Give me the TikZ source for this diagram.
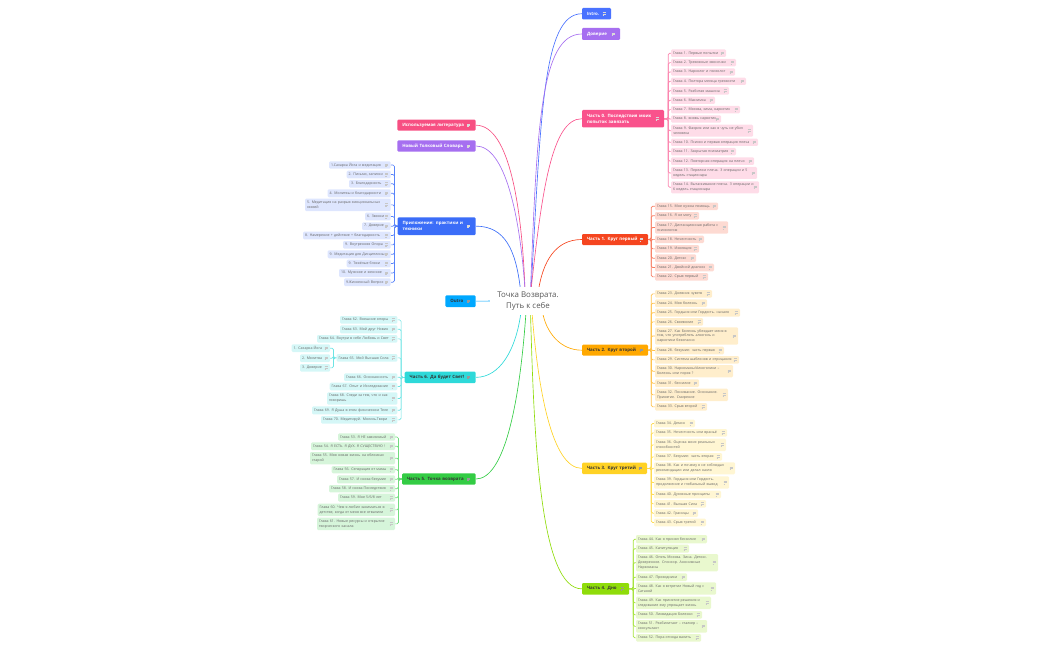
\documentclass[tikz,border=0pt]{standalone}
\usepackage{fontspec}
\setmainfont{Open Sans}
\usetikzlibrary{backgrounds,calc}
\definecolor{cIntro}{HTML}{4A72FF}
\definecolor{cDov}{HTML}{A66FF0}
\definecolor{cPink}{HTML}{F9528C}
\definecolor{cRed}{HTML}{F5451F}
\definecolor{cOra}{HTML}{FFA800}
\definecolor{cYel}{HTML}{FFD225}
\definecolor{cLime}{HTML}{8FDC0A}
\definecolor{cGrn}{HTML}{33CC44}
\definecolor{cCya}{HTML}{2ED9D9}
\definecolor{cBlue}{HTML}{3B6DF8}
\definecolor{cSky}{HTML}{00A8FF}
\definecolor{cLit}{HTML}{F74F82}
\definecolor{txtL}{HTML}{666666}
\tikzset{
  x=1pt,y=-1pt,
  partw/.style={fill=#1,text=white,rounded corners=1.2pt,font=\fontsize{4.4}{6.2}\selectfont\bfseries},
  partd/.style={fill=#1,text=black!80,rounded corners=1.2pt,font=\fontsize{4.4}{6.2}\selectfont\bfseries},
  leaf/.style={fill=#1,text=txtL,rounded corners=1.2pt,font=\fontsize{3.55}{4.9}\selectfont},
  icoL/.style={draw=black!22,line width=0.35pt},
  icoW/.style={draw=white!85!black,line width=0.35pt},
  icoD/.style={draw=black!40,line width=0.35pt},
  limb/.style={line width=0.7pt,draw=#1,rounded corners=1.5pt},
  curve/.style={line width=0.65pt,draw=#1},
}
\newcommand{\bxM}{5}
% name, style, icon style, x0, x1, y0, y1, text
\newcommand{\bx}[8]{%
  \pgfmathsetmacro{\bxCx}{(#4+#5)/2}%
  \pgfmathsetmacro{\bxCy}{(#6+#7)/2}%
  \pgfmathsetmacro{\bxW}{#5-#4}%
  \pgfmathsetmacro{\bxH}{#7-#6}%
  \pgfmathsetmacro{\bxT}{#5-#4-2*\bxM}%
  \node[#2,minimum width=\bxW pt,minimum height=\bxH pt,text width=\bxT pt,inner sep=0pt,align=left] (#1) at (\bxCx,\bxCy) {#8};
  \draw[#3,shift={(#1.east)}] ({-\bxM-3.7},-1.2) -- ({-\bxM-0.5},-1.2) ({-\bxM-3.7},0) -- ({-\bxM-0.5},0) ({-\bxM-3.7},1.2) -- ({-\bxM-2.2},1.2);
}
\begin{document}
\begin{tikzpicture}
\useasboundingbox (0,0) rectangle (1050,650);
% free ends of the branches, behind the centre title
\coordinate (sApp) at (520.5,290);
\coordinate (sLit) at (525,290);
\coordinate (sSlov) at (525,290);
\coordinate (sIntro) at (531,290);
\coordinate (sDov) at (530.5,290);
\coordinate (sP0) at (531,290);
\coordinate (sP1) at (538.5,290);
\coordinate (sP6) at (521,312);
\coordinate (sP5) at (526,312);
\coordinate (sP4) at (530.5,312);
\coordinate (sP3) at (532,312);
\coordinate (sP2) at (542.5,312);
\coordinate (sOut) at (500,301);
% centre
\node[fill=white,inner sep=0pt,minimum width=76pt,minimum height=28pt,align=center,text=black!65,font=\fontsize{7.9}{10.4}\selectfont] (root) at (528,301) {Точка Возврата.\\Путь к себе};
% right parts
\bx{intro}{partw=cIntro}{icoW}{582}{611}{8}{19.5}{Intro.}
\bx{dov}{partw=cDov}{icoW}{582}{620}{28}{40}{Доверие}
\bx{p0}{partw=cPink}{icoW}{582}{664}{110}{127.5}{Часть 0. Последствия моих\\попыток завязать}
\bx{p1}{partw=cRed}{icoW}{582}{648}{234}{245}{Часть 1. Круг первый}
\bx{p2}{partd=cOra}{icoD}{582}{648}{344.7}{355.7}{Часть 2. Круг второй}
\bx{p3}{partd=cYel}{icoD}{582}{647}{462.7}{474}{Часть 3. Круг третий}
\bx{p4}{partd=cLime}{icoD}{582}{629}{583}{594.7}{Часть 4. Дно}
% left parts
\bx{lit}{partw=cLit}{icoW}{397.3}{475.7}{119.7}{130.7}{Используемая литература}
\bx{slov}{partw=cDov}{icoW}{397.3}{475.7}{140.3}{151.7}{Новый Толковый Словарь}
\bx{app}{partw=cBlue}{icoW}{397.7}{475.7}{217.3}{235}{Приложение: практики и\\техники}
\bx{outro}{partd=cSky}{icoD}{445.3}{475.7}{295.3}{307}{Outro}
\bx{p6}{partd=cCya}{icoD}{404.7}{475.7}{371.7}{383}{Часть 6. Да будет Свет!}
\bx{p5}{partd=cGrn}{icoD}{402}{475.7}{473.3}{484.7}{Часть 5. Точка возврата}
\renewcommand{\bxM}{2}
% part 0 leaves
\tikzset{l0/.style={leaf=cPink!20!white}}
\bx{a1}{l0}{icoL}{671}{726}{49.5}{57}{Глава 1. Первые попытки}
\bx{a2}{l0}{icoL}{671}{736}{59}{66.3}{Глава 2. Тревожные звоночки}
\bx{a3}{l0}{icoL}{671}{735}{68.3}{75.7}{Глава 3. Нарколог и психолог}
\bx{a4}{l0}{icoL}{671}{746}{77.7}{85}{Глава 4. Полтора месяца трезвости}
\bx{a5}{l0}{icoL}{671}{729}{87}{94.7}{Глава 5. Разбитая машина}
\bx{a6}{l0}{icoL}{671}{715}{96.7}{104}{Глава 6. Максимка}
\bx{a7}{l0}{icoL}{671}{740}{106}{113.3}{Глава 7. Москва, зима, наркотик}
\bx{a8}{l0}{icoL}{671}{721}{115.3}{122.7}{Глава 8. вновь наркотик}
\bx{a9}{l0}{icoL}{671}{753}{124.7}{136.7}{Глава 9. Фахрия или как я чуть не убил\\человека}
\bx{a10}{l0}{icoL}{671}{758}{138.7}{146}{Глава 10. Психоз и первая операция плеча}
\bx{a11}{l0}{icoL}{671}{736}{148}{155.3}{Глава 11. Закрытая психиатрия}
\bx{a12}{l0}{icoL}{671}{754}{157.3}{165}{Глава 12. Повторная операция на плечо}
\bx{a13}{l0}{icoL}{671}{757}{167}{179}{Глава 13. Перелом плеча. 3 операции и 5\\недель стационара}
\bx{a14}{l0}{icoL}{671}{759}{181.3}{193.3}{Глава 14. Вытаскивание плеча. 3 операции и\\6 недель стационара}
% part 1 leaves
\tikzset{l1/.style={leaf=cRed!20!white}}
\bx{b1}{l1}{icoL}{655}{718}{202.5}{210}{Глава 15. Мне нужна помощь}
\bx{b2}{l1}{icoL}{655}{699}{212}{219.5}{Глава 16. Я не могу}
\bx{b3}{l1}{icoL}{655}{728}{221.3}{233.7}{Глава 17. Дистанционная работа с\\психологом}
\bx{b4}{l1}{icoL}{655}{704}{235.7}{243}{Глава 18. Нечестность}
\bx{b5}{l1}{icoL}{655}{699}{245}{252.7}{Глава 19. Изоляция}
\bx{b6}{l1}{icoL}{655}{696}{254.3}{262}{Глава 20. Детокс}
\bx{b7}{l1}{icoL}{655}{714}{263.7}{271.3}{Глава 21. Двойной диагноз}
\bx{b8}{l1}{icoL}{655}{708}{273}{280.7}{Глава 22. Срыв первый}
% part 2 leaves
\tikzset{l2/.style={leaf=cOra!20!white}}
\bx{c1}{l2}{icoL}{655}{712}{290}{297.7}{Глава 23. Дневник чувств}
\bx{c2}{l2}{icoL}{655}{707}{299.3}{307}{Глава 24. Моя болезнь}
\bx{c3}{l2}{icoL}{655}{740}{308.7}{316.7}{Глава 25. Гордыня или Гордость. начало}
\bx{c4}{l2}{icoL}{655}{703}{318}{325.7}{Глава 26. Своеволие}
\bx{c5}{l2}{icoL}{655}{738}{327.3}{344.7}{Глава 27. Как Болезнь убеждает меня в\\том, что употреблять алкоголь и\\наркотики безопасно}
\bx{c6}{l2}{icoL}{655}{724}{346.7}{354.3}{Глава 28. безумие: часть первая}
\bx{c7}{l2}{icoL}{655}{739}{356}{363.7}{Глава 29. Система шаблонов и отрицания}
\bx{c8}{l2}{icoL}{655}{733}{365}{377.3}{Глава 30. Наркоманы/Алкоголики --\\Болезнь или порок ?}
\bx{c9}{l2}{icoL}{655}{699}{379.3}{387}{Глава 31. бессилие}
\bx{c10}{l2}{icoL}{655}{728}{388.7}{401}{Глава 32. Понимание. Осознание.\\Принятие. Смирение}
\bx{c11}{l2}{icoL}{655}{707}{403}{410.7}{Глава 33. Срыв второй}
% part 3 leaves
\tikzset{l3/.style={leaf=cYel!20!white}}
\bx{d1}{l3}{icoL}{654}{695}{419.7}{427.3}{Глава 34. Демон}
\bx{d2}{l3}{icoL}{654}{727}{429}{436.7}{Глава 35. Нечестность или враньё}
\bx{d3}{l3}{icoL}{654}{726}{438.7}{451}{Глава 36. Оценка моих реальных\\способностей}
\bx{d4}{l3}{icoL}{654}{722}{453}{460.7}{Глава 37. Безумие: часть вторая}
\bx{d5}{l3}{icoL}{654}{735}{462.3}{474.3}{Глава 38. Как и почему я не соблюдал\\рекомендации или делал назло}
\bx{d6}{l3}{icoL}{654}{729}{476.3}{488.7}{Глава 39. Гордыня или Гордость.\\продолжение и глобальный вывод}
\bx{d7}{l3}{icoL}{654}{721}{490.7}{498.3}{Глава 40. Духовные принципы}
\bx{d8}{l3}{icoL}{654}{706}{500}{507.7}{Глава 41. Высшая Сила}
\bx{d9}{l3}{icoL}{654}{698}{509.3}{517}{Глава 42. Границы}
\bx{d10}{l3}{icoL}{654}{706}{518.7}{526.3}{Глава 43. Срыв третий}
% part 4 leaves
\tikzset{l4/.style={leaf=cLime!20!white}}
\bx{e1}{l4}{icoL}{636}{707}{535}{543.3}{Глава 44. Как я принял бессилие}
\bx{e2}{l4}{icoL}{636}{689}{544.7}{552.7}{Глава 45. Капитуляция}
\bx{e3}{l4}{icoL}{636}{718}{554}{571.3}{Глава 46. Опять Москва. Зина. Детокс.\\Доверенное. Спонсор. Анонимные\\Наркоманы}
\bx{e4}{l4}{icoL}{636}{687}{573.3}{581}{Глава 47. Проводники}
\bx{e5}{l4}{icoL}{636}{716}{582.3}{594.7}{Глава 48. Как я встретил Новый год с\\Сатаной}
\bx{e6}{l4}{icoL}{636}{711}{596.7}{609}{Глава 49. Как принятие решения и\\следование ему упрощает жизнь}
\bx{e7}{l4}{icoL}{636}{702}{611}{618.7}{Глава 50. Ликвидация Болезни}
\bx{e8}{l4}{icoL}{636}{707}{620}{632.7}{Глава 51. Реабилитант -- сталкер --\\консультант}
\bx{e9}{l4}{icoL}{636}{701}{634}{641.7}{Глава 52. Пора отсюда валить}
% appendix leaves
\tikzset{lb/.style={leaf=cBlue!17!white}}
\bx{f1}{lb}{icoL}{329}{390.7}{161.3}{168.7}{1.Сахарка Йога и медитация}
\bx{f2}{lb}{icoL}{346.7}{390.7}{170.7}{178.3}{2. Письмо, записки}
\bx{f3}{lb}{icoL}{349}{390.7}{180}{187.7}{3. Благодарность}
\bx{f4}{lb}{icoL}{327.7}{390.7}{189.3}{197.3}{4. Молитвы и благодарности}
\bx{f5}{lb}{icoL}{305}{390.7}{198.7}{211}{5. Медитация на разрыв эмоциональных\\связей}
\bx{f6}{lb}{icoL}{365}{390.7}{212.7}{220.3}{6. Звонки}
\bx{f7}{lb}{icoL}{362}{390.7}{222.3}{230}{7. Доверие}
\bx{f8}{lb}{icoL}{303}{390.7}{231.7}{239.3}{8. Намерение + действие + благодарность}
\bx{f9}{lb}{icoL}{343}{390.7}{241}{248.7}{9. Внутренняя Опора}
\bx{f10}{lb}{icoL}{327.7}{390.7}{250.3}{258.3}{9. Медитация для Дисциплины}
\bx{f11}{lb}{icoL}{346.7}{390.7}{259.7}{267.3}{9. Тяжёлые блоки}
\bx{f12}{lb}{icoL}{339}{390.7}{269}{277}{10. Мужское и женское}
\bx{f13}{lb}{icoL}{344}{390.7}{278.3}{286}{9.Жизненный Вопрос}
% part 6 leaves
\tikzset{l6/.style={leaf=cCya!20!white}}
\bx{g1}{l6}{icoL}{340}{397.3}{316}{323.7}{Глава 62. Внешние опоры}
\bx{g2}{l6}{icoL}{340}{397.3}{325.3}{333.3}{Глава 63. Мой друг Новин}
\bx{g3}{l6}{icoL}{317}{397.3}{335}{342.7}{Глава 64. Внутри в себе Любовь и Свет}
\bx{g4}{l6}{icoL}{336.7}{397.3}{354}{361.7}{Глава 65. Мой Высшая Сила}
\bx{g5}{l6}{icoL}{344}{397.3}{373.3}{381}{Глава 66. Осознанность}
\bx{g6}{l6}{icoL}{329.7}{397.3}{382.7}{390.3}{Глава 67. Опыт и Исследование}
\bx{g7}{l6}{icoL}{327}{397.3}{392.3}{404.7}{Глава 68. Следи за тем, что и как\\говоришь}
\bx{g8}{l6}{icoL}{312}{397.3}{406.3}{414.3}{Глава 69. Я Душа в этом физическом Теле}
\bx{g9}{l6}{icoL}{321}{397.3}{416}{423.7}{Глава 70. Медитируй. Молись.Твори}
\bx{h1}{l6}{icoL}{291.7}{330}{344.3}{352}{1. Сахарка Йога}
\bx{h2}{l6}{icoL}{300}{330}{354.3}{362}{2. Молитва}
\bx{h3}{l6}{icoL}{300}{330}{364}{371.7}{3. Доверие}
% part 5 leaves
\tikzset{l5/.style={leaf=cGrn!20!white}}
\bx{k1}{l5}{icoL}{338}{395}{433.3}{440.7}{Глава 53. Я НЕ зависимый}
\bx{k2}{l5}{icoL}{311}{395}{442.3}{450}{Глава 54. Я ЕСТЬ. Я ДУХ. Я СУЩЕСТВУЮ !}
\bx{k3}{l5}{icoL}{310}{395}{452}{464.3}{Глава 55. Моя новая жизнь на обломках\\старой}
\bx{k4}{l5}{icoL}{331.7}{395}{466}{473.3}{Глава 56. Сепарация от мамы}
\bx{k5}{l5}{icoL}{337}{395}{475.3}{483.3}{Глава 57. И снова безумие}
\bx{k6}{l5}{icoL}{329}{395}{485}{492.3}{Глава 58. И снова Последствия}
\bx{k7}{l5}{icoL}{338}{395}{493.7}{501.7}{Глава 59. Мне 5/6/8 лет}
\bx{k8}{l5}{icoL}{317.7}{395}{503.7}{516}{Глава 60. Чем я любил заниматься в\\детстве, когда от меня все отвалили}
\bx{k9}{l5}{icoL}{317}{395}{517.7}{530}{Глава 61. Новые ресурсы и открытие\\творческого канала}
% connectors
\begin{scope}[on background layer]
\draw[curve=cIntro] (sIntro) .. controls (541,120) and (542,13.7) .. (intro.west);
\draw[curve=cDov] (sDov) .. controls (537,130) and (540,34) .. (dov.west);
\draw[curve=cPink] (sP0) .. controls (542,190) and (552,118.7) .. (p0.west);
\draw[curve=cRed] (sP1) .. controls (543,262) and (555,239.5) .. (p1.west);
\draw[curve=cOra] (sP2) .. controls (546,332) and (560,350.2) .. (p2.west);
\draw[curve=cYel] (sP3) .. controls (538,390) and (552,468.3) .. (p3.west);
\draw[curve=cLime] (sP4) .. controls (534,440) and (540,588.8) .. (p4.west);
\draw[curve=cLit] (sLit) .. controls (522,210) and (510,125.2) .. (lit.east);
\draw[curve=cDov] (sSlov) .. controls (520,215) and (505,146) .. (slov.east);
\draw[curve=cBlue] (sApp) .. controls (516,250) and (505,226.2) .. (app.east);
\draw[curve=cSky] (outro.east) -- (sOut);
\draw[curve=cCya] (sP6) .. controls (516,350) and (500,377.3) .. (p6.east);
\draw[curve=cGrn] (sP5) .. controls (520,400) and (505,479) .. (p5.east);
\foreach \i in {1,...,14} \draw[limb=cPink!70!white] (p0.east) -- ++(4,0) |- (a\i.west);
\foreach \i in {1,...,8} \draw[limb=cRed!70!white] (p1.east) -- ++(3,0) |- (b\i.west);
\foreach \i in {1,...,11} \draw[limb=cOra!70!white] (p2.east) -- ++(3,0) |- (c\i.west);
\foreach \i in {1,...,10} \draw[limb=cYel!80!white] (p3.east) -- ++(4,0) |- (d\i.west);
\foreach \i in {1,...,9} \draw[limb=cLime!80!white] (p4.east) -- ++(4,0) |- (e\i.west);
\foreach \i in {1,...,13} \draw[limb=cBlue!85!white] (app.west) -- ++(-3,0) |- (f\i.east);
\foreach \i in {1,...,9} \draw[limb=cCya!70!white] (p6.west) -- ++(-3.4,0) |- (g\i.east);
\foreach \i in {1,...,3} \draw[limb=cCya!70!white] (g4.west) -- ++(-3,0) |- (h\i.east);
\foreach \i in {1,...,9} \draw[limb=cGrn!70!white] (p5.west) -- ++(-3.3,0) |- (k\i.east);
\end{scope}
\end{tikzpicture}
\end{document}
